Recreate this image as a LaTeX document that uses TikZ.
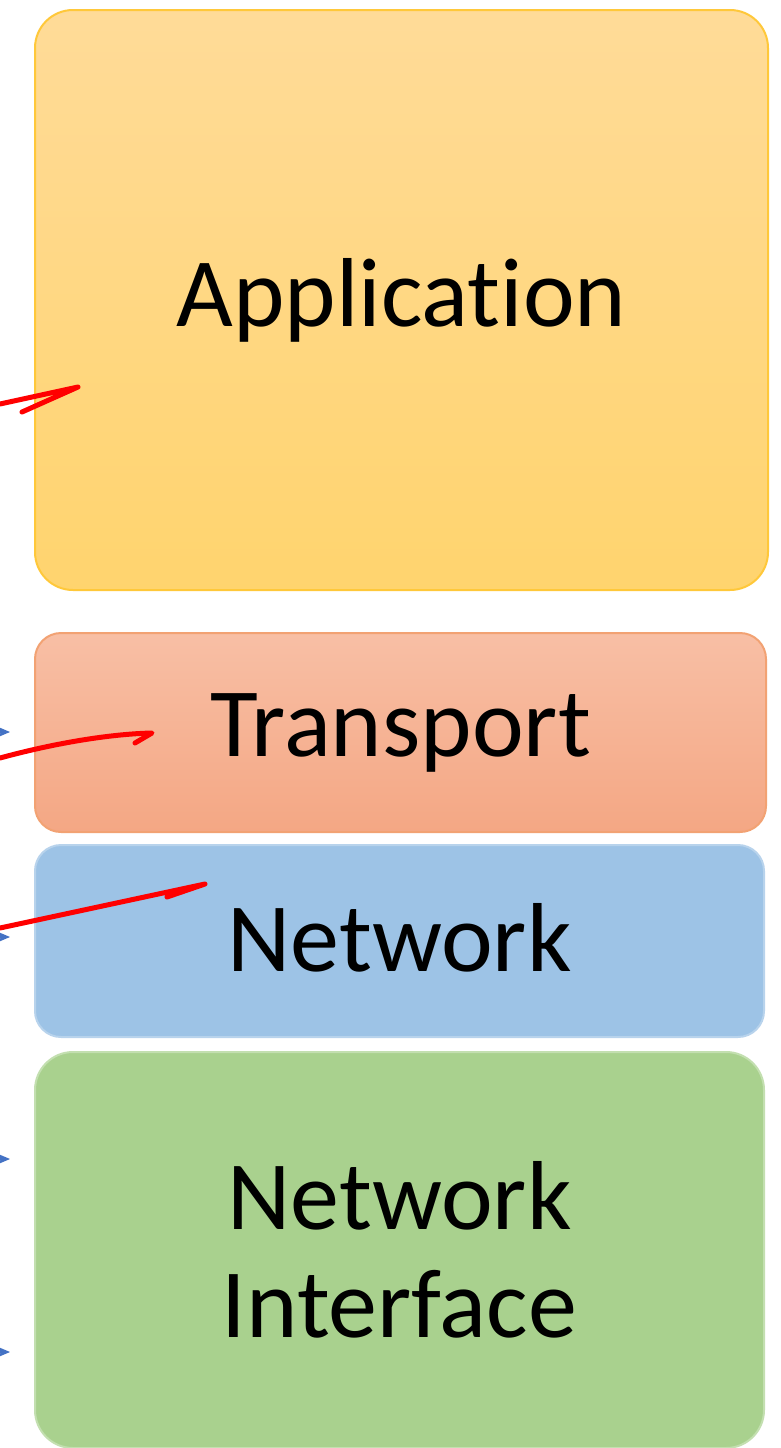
\documentclass[tikz,border=0pt]{standalone}
\usepackage{fontspec}
\setmainfont{Carlito}[Ligatures=NoCommon]
\usepackage{tikz}
\usetikzlibrary{arrows.meta, positioning}
\definecolor{appTop}{HTML}{FFDB98}
\definecolor{appBot}{HTML}{FFD46E}
\definecolor{appLine}{HTML}{FFC83A}
\definecolor{trTop}{HTML}{F8BFA5}
\definecolor{trBot}{HTML}{F4A784}
\definecolor{trLine}{HTML}{F2A273}
\definecolor{netFill}{HTML}{9DC3E6}
\definecolor{netLine}{HTML}{B8D3EC}
\definecolor{nifFill}{HTML}{A9D18E}
\definecolor{nifLine}{HTML}{C3DFB0}
\definecolor{penBlue}{HTML}{4472C4}
\tikzset{
    layer/.style={rectangle, rounded corners=38pt, align=center, line width=2pt, font=\fontsize{98}{108}\selectfont},
    pen/.style={draw=red, line width=5pt, line cap=round, line join=round},
    arrow/.style={draw=penBlue, line width=1.5pt, -{Stealth[length=13pt,width=11pt]}}
}
\begin{document}
\begin{tikzpicture}[x=1pt, y=-1pt]
    \useasboundingbox (0,0) rectangle (780,1448);
    \node (app) [layer, draw=appLine, top color=appTop, bottom color=appBot, minimum width=733pt, minimum height=580pt] at (401.5,300) {Application};
    \node (trans) [layer, rounded corners=26pt, draw=trLine, top color=trTop, bottom color=trBot, minimum width=731pt, minimum height=199pt] at (400.5,732.5) {Transport};
    \node (net) [layer, rounded corners=26pt, draw=netLine, fill=netFill, text depth=8pt, minimum width=729pt, minimum height=192pt] at (399.5,941) {Network};
    \node (nif) [layer, draw=nifLine, fill=nifFill, minimum width=729pt, minimum height=396pt] at (399.5,1250) {Network\\Interface};

    % hand drawn marks
    \coordinate (appIn) at (0,404);
    \coordinate (appTip) at (78,387);
    \coordinate (appBarb) at (22,412);
    \coordinate (trIn) at (0,758);
    \coordinate (trTip) at (152,733);
    \coordinate (trBarb) at (135,743);
    \coordinate (netIn) at (0,928);
    \coordinate (netTip) at (205,884);
    \coordinate (netBarb) at (167,897);
    \draw [pen] (appIn) -- (appTip) -- (appBarb);
    \draw [pen] (trIn) .. controls (55,743) and (110,734) .. (trTip) -- (trBarb);
    \draw [pen] (netIn) -- (netTip) -- (netBarb);

    % cut off arrows at the left edge
    \foreach \y [count=\i] in {732,937,1159,1352} {
        \coordinate (b\i s) at (-40,\y);
        \coordinate (b\i) at (10,\y);
        \draw [arrow] (b\i s) -- (b\i);
    }
\end{tikzpicture}
\end{document}
